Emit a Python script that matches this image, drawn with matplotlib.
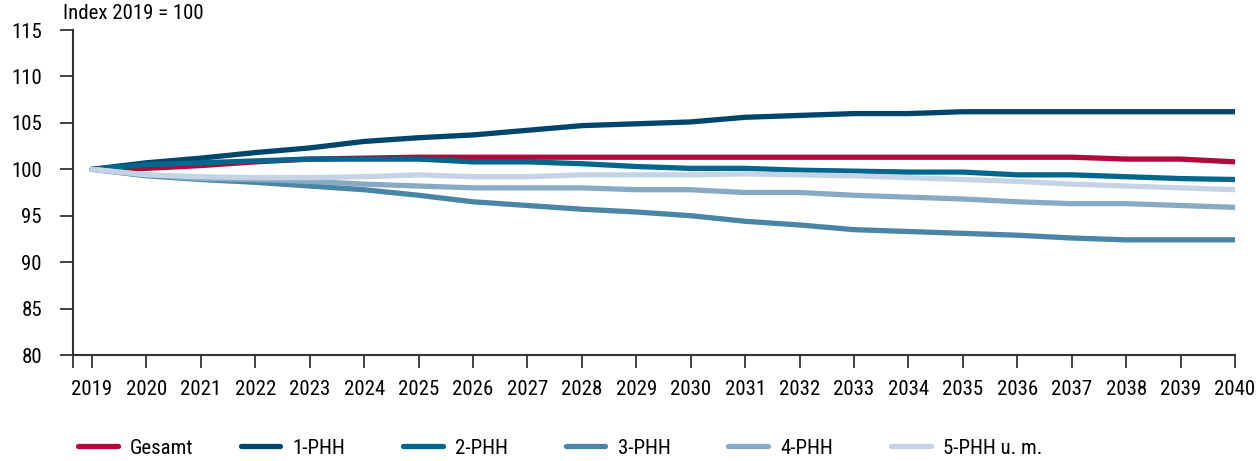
import matplotlib.pyplot as plt

years = list(range(2019, 2041))

gesamt = [100, 100.1, 100.4, 100.8, 101.1, 101.2, 101.3, 101.3, 101.3, 101.3, 101.3,
          101.3, 101.3, 101.3, 101.3, 101.3, 101.3, 101.3, 101.3, 101.1, 101.1, 100.8]
phh1 = [100, 100.7, 101.2, 101.8, 102.3, 103.0, 103.4, 103.7, 104.2, 104.7, 104.9,
        105.1, 105.6, 105.8, 106.0, 106.0, 106.2, 106.2, 106.2, 106.2, 106.2, 106.2]
phh2 = [100, 100.5, 100.7, 100.9, 101.1, 101.1, 101.1, 100.8, 100.8, 100.6, 100.3,
        100.1, 100.1, 99.9, 99.8, 99.7, 99.7, 99.4, 99.4, 99.2, 99.0, 98.9]
phh3 = [100, 99.3, 98.9, 98.6, 98.2, 97.8, 97.2, 96.5, 96.1, 95.7, 95.4,
        95.0, 94.4, 94.0, 93.5, 93.3, 93.1, 92.9, 92.6, 92.4, 92.4, 92.4]
phh4 = [100, 99.4, 99.0, 98.9, 98.7, 98.4, 98.2, 98.0, 98.0, 98.0, 97.8,
        97.8, 97.5, 97.5, 97.2, 97.0, 96.8, 96.5, 96.3, 96.3, 96.1, 95.9]
phh5 = [100, 99.4, 99.2, 99.1, 99.1, 99.2, 99.4, 99.2, 99.2, 99.4, 99.4,
        99.4, 99.5, 99.4, 99.3, 99.1, 98.9, 98.7, 98.4, 98.2, 98.0, 97.8]

labels = ["Gesamt", "1-PHH", "2-PHH", "3-PHH", "4-PHH", "5-PHH u. m."]
colors = ["#b0093a", "#00456b", "#00668c", "#4a84a6", "#87aac4", "#c4d4e4"]

plt.rcParams['font.family'] = ['Roboto Condensed', 'Archivo Narrow', 'Roboto', 'DejaVu Sans']

fig = plt.figure(figsize=(12.58, 4.61), dpi=100)
ax = fig.add_axes([0.05803, 0.22993, 0.92369, 0.70499])

series = [gesamt, phh1, phh2, phh3, phh4, phh5]
lines = []
for vals, c, lab in zip(series, colors, labels):
    ln, = ax.plot(years, vals, color=c, lw=3.8, solid_capstyle='round',
                  solid_joinstyle='round', label=lab)
    lines.append(ln)

ax.set_xlim(2018.65, 2040)
ax.set_ylim(80, 115)
ax.set_xticks(years)
ax.set_xticks([2018.65], minor=True)
ax.set_yticks(range(80, 116, 5))
ax.tick_params(axis='both', which='both', labelsize=15, color='#333333', width=1.3)
ax.tick_params(axis='y', length=9.4, pad=13)
ax.tick_params(axis='x', which='both', length=9.4, pad=8.5)

for s in ['top', 'right']:
    ax.spines[s].set_visible(False)
for s in ['left', 'bottom']:
    ax.spines[s].set_color('#333333')
    ax.spines[s].set_linewidth(1.5)

fig.text(63 / 1258, 1 - 4 / 461, "Index 2019 = 100", fontsize=15, va='top', ha='left')

# legend entries sit on a fixed grid, one small legend per entry
for i, (ln, lab) in enumerate(zip(lines, labels)):
    x0 = (78 + i * 162.6) / 1258
    fig.legend([ln], [lab], loc='center left', bbox_to_anchor=(x0, 1 - 448 / 461),
               frameon=False, fontsize=15, handlelength=1.9, handletextpad=0.6,
               borderpad=0, borderaxespad=0)

fig.savefig("out.png", dpi=100)
